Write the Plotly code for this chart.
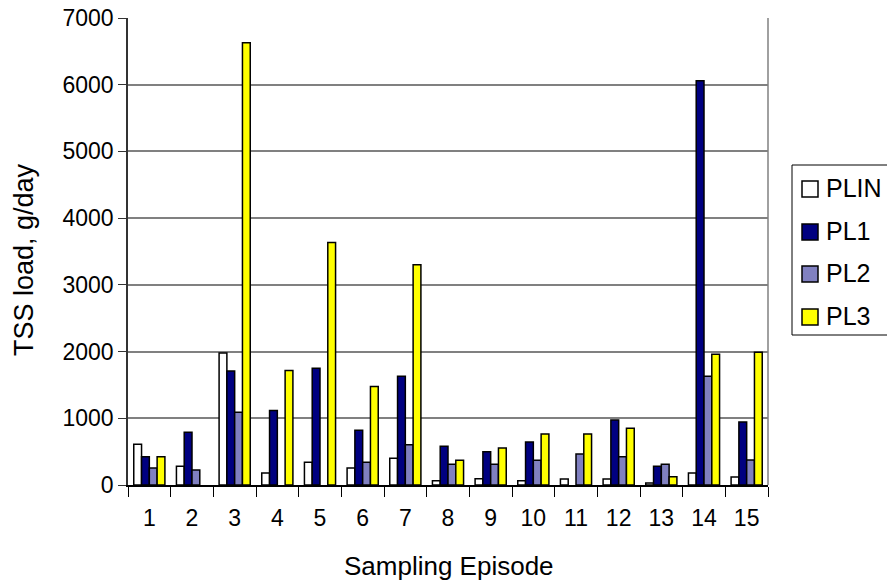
import plotly.graph_objects as go

# Sampling episodes and TSS loads (g/day) at each station (None = no load recorded)
episodes = [str(i) for i in range(1, 16)]
plin = [610, 280, 1980, 180, 340, 255, 400, 65, 95, 65, 90, 90, 30, 180, 120]
pl1 = [425, 790, 1710, 1115, 1750, 820, 1630, 580, 500, 645, None, 975, 280, 6060, 945]
pl2 = [255, 225, 1090, None, None, 340, 605, 310, 310, 370, 465, 425, 310, 1630, 375]
pl3 = [425, None, 6630, 1715, 3635, 1478, 3302, 370, 555, 765, 765, 850, 125, 1960, 1990]

station_names = ["PLIN", "PL1", "PL2", "PL3"]
station_values = [plin, pl1, pl2, pl3]
station_colors = ["#FFFFFF", "#000080", "#8080C0", "#FFFF00"]

FONT = "Liberation Sans, Arial, sans-serif"
W, H = 887, 587
ML, MR, MT, MB = 128, 119, 18, 102
PW, PH = W - ML - MR, H - MT - MB


def px_x(x):
    """Horizontal pixel position -> paper coordinate."""
    return (x - ML) / PW


def px_y(y):
    """Vertical pixel position (from top) -> paper coordinate."""
    return (H - MB - y) / PH


fig = go.Figure()
for name, vals, color in zip(station_names, station_values, station_colors):
    fig.add_trace(go.Bar(
        x=episodes, y=vals, name=name,
        marker=dict(color=color, line=dict(color="#000000", width=1.5)),
    ))

fig.update_layout(
    width=W, height=H,
    margin=dict(l=ML, r=MR, t=MT, b=MB, autoexpand=False),
    paper_bgcolor="white", plot_bgcolor="white",
    font=dict(family=FONT, size=23, color="black"),
    barmode="group", bargap=0.27, bargroupgap=0,
    showlegend=False,
    xaxis=dict(
        type="category", showgrid=False,
        showline=True, linecolor="black", linewidth=1.5,
        ticks="outside", tickson="boundaries", ticklen=10,
        tickcolor="black", tickwidth=1,
        ticklabelstandoff=12,
        tickfont=dict(size=23),
    ),
    yaxis=dict(
        range=[0, 7000], dtick=1000,
        showgrid=True, gridcolor="#808080", gridwidth=1.5,
        showline=True, linecolor="#333333", linewidth=1.5,
        ticks="outside", ticklen=8, tickcolor="#333333",
        tickfont=dict(size=23),
        zeroline=False,
    ),
)

# Axis titles
fig.add_annotation(text="Sampling Episode", xref="paper", yref="paper",
                   x=0.5 * (px_x(345) + px_x(553)), y=px_y(566),
                   xanchor="center", yanchor="middle", showarrow=False,
                   font=dict(family=FONT, size=26))
fig.add_annotation(text="TSS load, g/day", xref="paper", yref="paper",
                   x=px_x(24), y=px_y(260), textangle=-90,
                   xanchor="center", yanchor="middle", showarrow=False,
                   font=dict(family=FONT, size=27))

# Plot frame on the right-hand side
fig.add_shape(type="line", xref="paper", yref="paper", x0=1, x1=1, y0=0, y1=1,
              line=dict(color="#808080", width=1.5))

# Legend box with one swatch per station
fig.add_shape(type="rect", xref="paper", yref="paper",
              x0=px_x(792), x1=px_x(900), y0=px_y(335), y1=px_y(165),
              line=dict(color="black", width=1), fillcolor="white", layer="above")
item_y = [187, 230, 272, 315]
for name, color, yc in zip(station_names, station_colors, item_y):
    fig.add_shape(type="rect", xref="paper", yref="paper",
                  x0=px_x(802), x1=px_x(818), y0=px_y(yc + 10), y1=px_y(yc - 6),
                  line=dict(color="black", width=1.5), fillcolor=color, layer="above")
    fig.add_annotation(text=name, xref="paper", yref="paper",
                       x=px_x(824), y=px_y(yc + 1), xanchor="left", yanchor="middle",
                       showarrow=False, font=dict(family=FONT, size=25))

fig.write_html("out.html")
